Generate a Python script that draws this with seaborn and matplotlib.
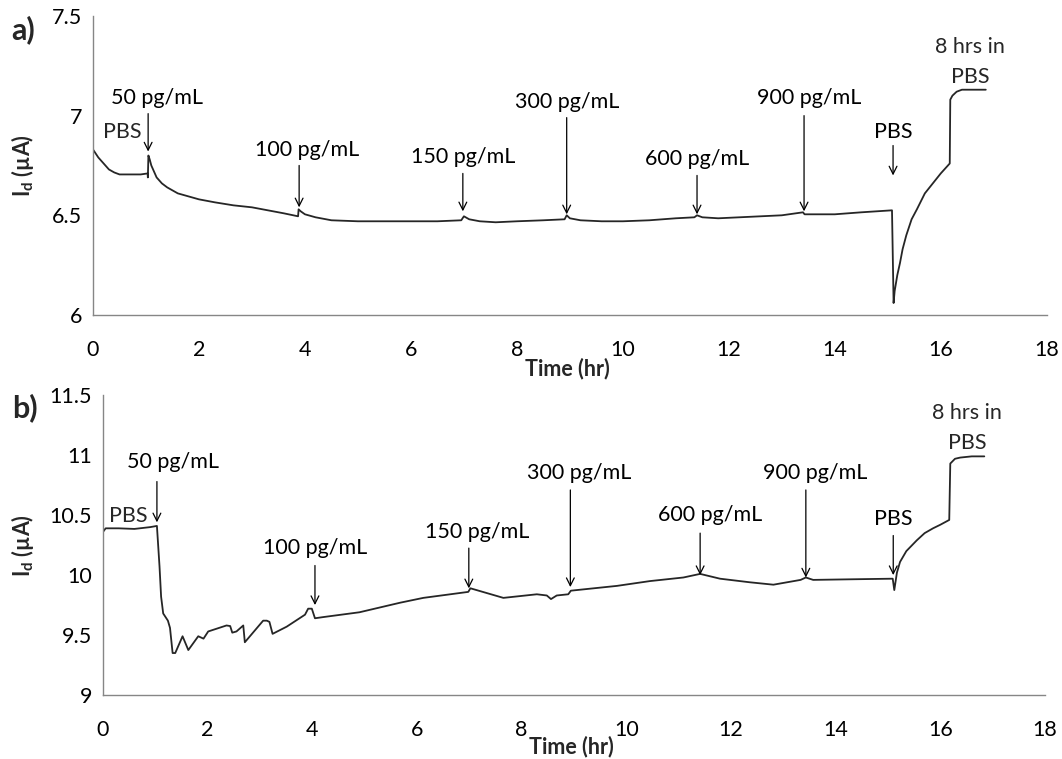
import numpy as np
import pandas as pd
import matplotlib
matplotlib.use("Agg")
import matplotlib.pyplot as plt
import seaborn as sns

# ---------------- data ----------------
# Panel a)
time_a = [0, 0.1, 0.2, 0.3, 0.4, 0.5, 0.7, 0.9, 1.03, 1.035, 1.045, 1.07, 1.1, 1.2, 1.3,
          1.4, 1.6, 1.8, 2.0, 2.3, 2.65, 3.0, 3.3, 3.6, 3.87, 3.88, 3.92, 4.0, 4.2, 4.5,
          5.0, 5.5, 6.0, 6.5, 6.95, 7.0, 7.1, 7.3, 7.6, 8.0, 8.5, 8.9, 8.94, 9.0, 9.2,
          9.6, 10.0, 10.5, 11.0, 11.35, 11.4, 11.5, 11.8, 12.2, 12.6, 13.0, 13.4, 13.43,
          13.5, 14.0, 14.5, 15.08, 15.11, 15.13, 15.18, 15.23, 15.28, 15.35, 15.45, 15.55,
          15.7, 15.85, 16.0, 16.17, 16.18, 16.22, 16.3, 16.4, 16.6, 16.85]
current_a = [6.83, 6.79, 6.76, 6.73, 6.715, 6.705, 6.705, 6.705, 6.71, 6.69, 6.80, 6.78,
             6.75, 6.69, 6.66, 6.64, 6.61, 6.595, 6.58, 6.565, 6.55, 6.54, 6.525, 6.51,
             6.495, 6.53, 6.52, 6.505, 6.49, 6.475, 6.47, 6.47, 6.47, 6.47, 6.475, 6.495,
             6.48, 6.47, 6.465, 6.47, 6.475, 6.48, 6.50, 6.485, 6.475, 6.47, 6.47, 6.475,
             6.485, 6.49, 6.50, 6.49, 6.485, 6.49, 6.495, 6.50, 6.515, 6.505, 6.505, 6.505,
             6.515, 6.525, 6.06, 6.12, 6.20, 6.26, 6.33, 6.40, 6.48, 6.53, 6.61, 6.66, 6.71,
             6.76, 7.08, 7.10, 7.12, 7.13, 7.13, 7.13]

# Panel b)
time_b = [0, 0.05, 0.3, 0.6, 0.9, 1.03, 1.08, 1.11, 1.15, 1.24, 1.28, 1.33, 1.38, 1.52,
          1.63, 1.82, 1.92, 2.01, 2.36, 2.43, 2.47, 2.55, 2.68, 2.71, 3.06, 3.13, 3.18,
          3.24, 3.51, 3.86, 3.92, 3.99, 4.05, 4.21, 4.9, 5.68, 6.12, 6.98, 7.02, 7.65,
          8.29, 8.48, 8.56, 8.67, 8.89, 8.94, 9.82, 10.45, 11.09, 11.41, 11.79, 12.36,
          12.81, 13.33, 13.43, 13.57, 14.3, 15.09, 15.12, 15.17, 15.23, 15.35, 15.55,
          15.7, 15.86, 16.0, 16.17, 16.19, 16.28, 16.38, 16.6, 16.84]
current_b = [10.36, 10.39, 10.39, 10.385, 10.40, 10.41, 10.07, 9.82, 9.68, 9.62, 9.56,
             9.35, 9.35, 9.49, 9.375, 9.49, 9.47, 9.53, 9.58, 9.575, 9.52, 9.53, 9.58,
             9.44, 9.62, 9.62, 9.61, 9.51, 9.57, 9.67, 9.72, 9.72, 9.64, 9.65, 9.69,
             9.77, 9.81, 9.86, 9.89, 9.81, 9.84, 9.83, 9.80, 9.83, 9.84, 9.87, 9.91,
             9.95, 9.98, 10.01, 9.97, 9.94, 9.92, 9.96, 9.98, 9.96, 9.965, 9.97, 9.875,
             10.02, 10.11, 10.20, 10.29, 10.35, 10.39, 10.42, 10.46, 10.93, 10.97, 10.98,
             10.99, 10.99]

# annotations: label, arrow x, arrow tail y, arrow head y, text position
labels_a = ["50 pg/mL", "100 pg/mL", "150 pg/mL", "300 pg/mL", "600 pg/mL", "900 pg/mL", "PBS"]
arrow_t_a = [1.04, 3.89, 6.98, 8.94, 11.4, 13.42, 15.1]
arrow_tail_a = [7.01, 6.75, 6.71, 6.99, 6.70, 7.00, 6.85]
arrow_head_a = [6.82, 6.54, 6.52, 6.505, 6.505, 6.52, 6.70]
text_x_a = [1.2, 4.04, 6.98, 8.94, 11.4, 13.52, 15.1]
text_y_a = [7.09, 6.83, 6.79, 7.07, 6.78, 7.09, 6.92]

labels_b = ["50 pg/mL", "100 pg/mL", "150 pg/mL", "300 pg/mL", "600 pg/mL", "900 pg/mL", "PBS"]
arrow_t_b = [1.03, 4.05, 6.99, 8.93, 11.41, 13.43, 15.1]
arrow_tail_b = [10.78, 10.08, 10.225, 10.71, 10.35, 10.71, 10.33]
arrow_head_b = [10.44, 9.75, 9.89, 9.90, 10.0, 9.98, 10.0]
text_x_b = [1.34, 4.05, 7.15, 9.1, 11.6, 13.6, 15.1]
text_y_b = [10.94, 10.23, 10.36, 10.85, 10.50, 10.85, 10.47]

# ---------------- style ----------------
sns.set_theme(style="white")
plt.rcParams['font.family'] = ['Lato', 'DejaVu Sans']
plt.rcParams['mathtext.fontset'] = 'custom'
plt.rcParams['mathtext.rm'] = 'Lato:bold'
plt.rcParams['mathtext.it'] = 'Lato:bold'
plt.rcParams['mathtext.bf'] = 'Lato:bold'

FS = 15.5
GRAY = '#868686'
LINE = '#262626'

fig = plt.figure(figsize=(10.62, 7.59), dpi=100)
ax_a = fig.add_axes([0.0876, 0.585, 0.898, 0.394])
ax_b = fig.add_axes([0.0970, 0.0843, 0.887, 0.395])

df_a = pd.DataFrame({"time": time_a, "current": current_a})
df_b = pd.DataFrame({"time": time_b, "current": current_b})

sns.lineplot(data=df_a, x="time", y="current", ax=ax_a, color=LINE, lw=1.3, sort=False)
sns.lineplot(data=df_b, x="time", y="current", ax=ax_b, color=LINE, lw=1.3, sort=False)


def style(ax, ylim, yticks, xlab_y, ylab_x):
    ax.set_xlim(0, 18)
    ax.set_ylim(*ylim)
    ax.set_xticks(np.arange(0, 19, 2))
    ax.set_yticks(yticks)
    ax.set_yticklabels([f"{v:g}" for v in yticks])
    for s in ['top', 'right']:
        ax.spines[s].set_visible(False)
    for s in ['left', 'bottom']:
        ax.spines[s].set_color(GRAY)
        ax.spines[s].set_linewidth(1.0)
    ax.tick_params(axis='both', which='major', direction='out', length=5, width=1.0,
                   color=GRAY, labelsize=FS, labelcolor='black')
    ax.tick_params(axis='x', pad=13)
    ax.tick_params(axis='y', pad=3)
    ax.set_xlabel("Time (hr)", fontsize=FS, fontweight='bold')
    ax.set_ylabel(r"I$_\mathrm{d}$ (µA)", fontsize=FS, fontweight='bold')
    ax.xaxis.set_label_coords(0.497, xlab_y)
    ax.yaxis.set_label_coords(ylab_x, 0.5)
    ax.set_facecolor('white')


style(ax_a, (6, 7.5), [6, 6.5, 7, 7.5], -0.144, -0.060)
style(ax_b, (9, 11.5), [9, 9.5, 10, 10.5, 11, 11.5], -0.137, -0.071)


def annotate(ax, labels, at, tail, head, tx, ty):
    for lab, x, y0, y1, xt, yt in zip(labels, at, tail, head, tx, ty):
        ax.annotate('', xy=(x, y1), xytext=(x, y0),
                    arrowprops=dict(arrowstyle='->', color='black', lw=0.9,
                                    mutation_scale=14, shrinkA=0, shrinkB=0))
        ax.text(xt, yt, lab, ha='center', va='center', fontsize=FS, color='black')


annotate(ax_a, labels_a, arrow_t_a, arrow_tail_a, arrow_head_a, text_x_a, text_y_a)
annotate(ax_b, labels_b, arrow_t_b, arrow_tail_b, arrow_head_b, text_x_b, text_y_b)

# unarrowed labels
ax_a.text(0.55, 6.92, "PBS", ha='center', va='center', fontsize=FS)
ax_a.text(16.55, 7.344, "8 hrs in", ha='center', va='center', fontsize=FS)
ax_a.text(16.55, 7.194, "PBS", ha='center', va='center', fontsize=FS)
ax_b.text(0.48, 10.49, "PBS", ha='center', va='center', fontsize=FS)
ax_b.text(16.51, 11.35, "8 hrs in", ha='center', va='center', fontsize=FS)
ax_b.text(16.51, 11.10, "PBS", ha='center', va='center', fontsize=FS)

fig.text(0.011, 1 - 30 / 759, "a)", fontsize=22, fontweight='bold', ha='left', va='center')
fig.text(0.011, 1 - 408 / 759, "b)", fontsize=22, fontweight='bold', ha='left', va='center')

fig.savefig("out.png", dpi=100, facecolor='white')
